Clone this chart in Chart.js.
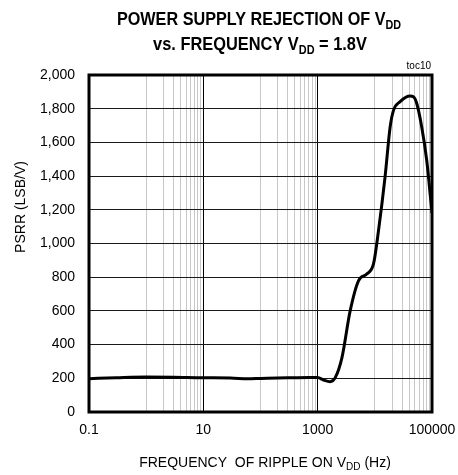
<!DOCTYPE html>
<html>
<head>
<meta charset="utf-8">
<script src="https://cdn.jsdelivr.net/npm/chart.js@4/dist/chart.umd.min.js"></script>
<style>
  body { margin: 0; background: #fff; }
  canvas { display: block; }
</style>
</head>
<body>
<canvas id="myChart" width="458" height="475"></canvas>
<script>
// Datos (frecuencia en Hz, PSRR en LSB/V)
const frecuencias = [0.1, 0.3, 1, 3, 10, 30, 60, 100, 300, 700, 1000, 1270, 1650, 2030, 2660, 3700, 5200, 7300, 9500, 11600, 15100, 18500, 21200, 27700, 41400, 47300, 54100, 66100, 80800, 100000];
const psrr = [198, 203, 207, 206, 203, 202, 197, 199, 203, 205, 205, 190, 180, 204, 323, 600, 780, 820, 880, 1077, 1395, 1690, 1790, 1842, 1875, 1871, 1831, 1692, 1494, 1180];

// Marcas del eje X (escala log de base 100, como en Excel)
const xEtiquetas = [0.1, 10, 1000, 100000];
const xMenores = [1, 2, 3, 4, 5, 6, 7, 8, 9, 100, 200, 300, 400, 500, 600, 700, 800, 900, 10000, 20000, 30000, 40000, 50000, 60000, 70000, 80000, 90000];
const yTicks = [0, 200, 400, 600, 800, 1000, 1200, 1400, 1600, 1800, 2000];

const FUENTE = "'Liberation Sans', Arial, sans-serif";

// Dibuja texto con subíndices; partes = [[texto, esSub], ...]
function textoRico(ctx, partes, x, y, tam, negrita, escala) {
  const peso = negrita ? 'bold ' : '';
  const subTam = Math.round(tam * 0.68);
  let ancho = 0;
  partes.forEach(([t, sub]) => {
    ctx.font = peso + (sub ? subTam : tam) + 'px ' + FUENTE;
    ancho += ctx.measureText(t).width;
  });
  ctx.save();
  ctx.translate(x, y);
  ctx.scale(escala, 1);
  ctx.fillStyle = '#000';
  ctx.textBaseline = 'alphabetic';
  ctx.textAlign = 'left';
  let cx = -ancho / 2;
  partes.forEach(([t, sub]) => {
    ctx.font = peso + (sub ? subTam : tam) + 'px ' + FUENTE;
    ctx.fillText(t, cx, sub ? Math.round(tam * 0.22) : 0);
    cx += ctx.measureText(t).width;
  });
  ctx.restore();
}

// Plugin para títulos, marco y etiqueta "toc10"
const extras = {
  id: 'extras',
  afterDraw(chart) {
    const ctx = chart.ctx;
    const a = chart.chartArea;

    ctx.save();
    ctx.strokeStyle = '#000';
    ctx.lineWidth = 3;
    ctx.strokeRect(a.left, a.top, a.right - a.left, a.bottom - a.top);
    ctx.restore();

    textoRico(ctx, [['POWER SUPPLY REJECTION OF V', false], ['DD', true]], 259, 25, 18, true, 0.9);
    textoRico(ctx, [['vs. FREQUENCY V', false], ['DD', true], [' = 1.8V', false]], 260, 50, 18, true, 0.91);
    textoRico(ctx, [['FREQUENCY  OF RIPPLE ON V', false], ['DD', true], [' (Hz)', false]], 265, 467, 14, false, 1);

    ctx.save();
    ctx.fillStyle = '#000';
    ctx.font = '10px ' + FUENTE;
    ctx.textAlign = 'right';
    ctx.textBaseline = 'alphabetic';
    ctx.fillText('toc10', 431, 69);
    ctx.translate(21, 207);
    ctx.rotate(-Math.PI / 2);
    ctx.font = '14px ' + FUENTE;
    ctx.textAlign = 'center';
    ctx.textBaseline = 'middle';
    ctx.fillText('PSRR (LSB/V)', 0, 0);
    ctx.restore();
  }
};

const ctx = document.getElementById('myChart').getContext('2d');
new Chart(ctx, {
  type: 'line',
  data: {
    datasets: [{
      data: frecuencias.map((f, i) => ({ x: f, y: psrr[i] })),
      borderColor: '#000',
      borderWidth: 3,
      pointRadius: 0,
      fill: false,
      cubicInterpolationMode: 'monotone'
    }]
  },
  options: {
    responsive: false,
    animation: false,
    layout: { padding: { top: 75, right: 26, left: 0, bottom: 0 } },
    plugins: {
      legend: { display: false },
      title: { display: false },
      tooltip: { enabled: false }
    },
    scales: {
      x: {
        type: 'logarithmic',
        min: 0.1,
        max: 100000,
        afterBuildTicks: (scale) => {
          scale.ticks = xEtiquetas.concat(xMenores).sort((p, q) => p - q).map(v => ({ value: v }));
        },
        afterFit: (scale) => {
          scale.height = 63;
          scale.paddingLeft = 0;
          scale.paddingRight = 0;
        },
        border: { display: false },
        grid: {
          drawTicks: false,
          lineWidth: 1,
          color: (c) => {
            const v = c.tick ? c.tick.value : 0;
            return (v === 10 || v === 1000) ? '#000' : '#c8c8c8';
          }
        },
        ticks: {
          autoSkip: false,
          maxRotation: 0,
          padding: 10,
          color: '#000',
          font: { family: FUENTE, size: 14 },
          callback: (v) => xEtiquetas.includes(v) ? String(v) : ''
        }
      },
      y: {
        min: 0,
        max: 2000,
        afterBuildTicks: (scale) => {
          scale.ticks = yTicks.map(v => ({ value: v }));
        },
        afterFit: (scale) => {
          scale.width = 89;
          scale.paddingTop = 0;
          scale.paddingBottom = 0;
        },
        border: { display: false },
        grid: { drawTicks: false, color: '#1a1a1a', lineWidth: 1 },
        ticks: {
          padding: 14,
          color: '#000',
          font: { family: FUENTE, size: 14 },
          callback: (v) => v.toLocaleString('en-US')
        }
      }
    }
  },
  plugins: [extras]
});
</script>
</body>
</html>
